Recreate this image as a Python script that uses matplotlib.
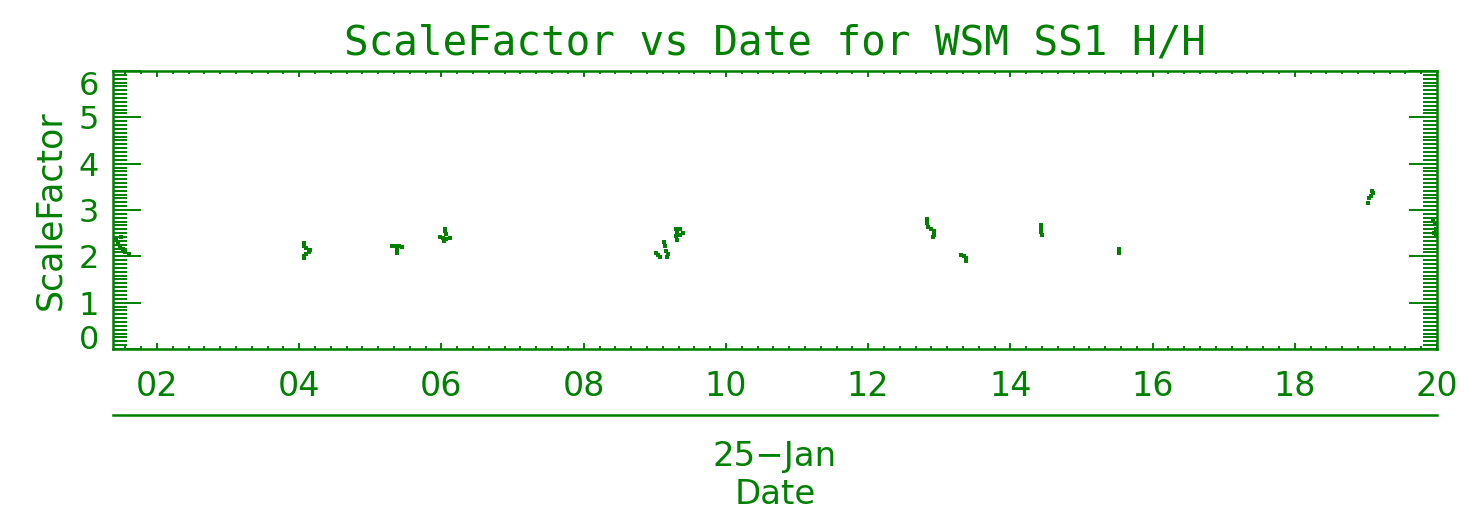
import matplotlib
matplotlib.use("Agg")
import matplotlib.pyplot as plt
from matplotlib.ticker import AutoMinorLocator, FixedLocator, FixedFormatter

# hours of 25-Jan and scale factor readings
hours = [1.42, 1.45, 1.48, 1.52, 1.55, 1.60, 1.50,
         4.06, 4.07, 4.10, 4.15, 4.13, 4.09, 4.07, 4.06,
         5.31, 5.34, 5.37, 5.40, 5.44, 5.38, 5.38, 5.38,
         6.05, 6.05, 6.06, 5.98, 6.02, 6.07, 6.12, 6.04,
         9.02, 9.04, 9.07, 9.13, 9.14, 9.16, 9.18, 9.17,
         9.30, 9.31, 9.30, 9.31, 9.36, 9.39, 9.35,
         12.83, 12.83, 12.84, 12.88, 12.92, 12.92, 12.91,
         13.31, 13.35, 13.38, 13.38,
         14.43, 14.43, 14.43, 14.44,
         15.53, 15.53,
         19.08, 19.10, 19.07, 19.05, 19.03,
         19.95, 19.97, 19.98, 19.96, 19.99]
scale = [2.35, 2.28, 2.22, 2.15, 2.10, 2.05, 2.42,
         2.28, 2.22, 2.17, 2.14, 2.10, 2.06, 2.01, 1.97,
         2.22, 2.23, 2.22, 2.22, 2.21, 2.16, 2.11, 2.07,
         2.60, 2.54, 2.48, 2.42, 2.40, 2.38, 2.40, 2.33,
         2.08, 2.02, 1.99, 2.30, 2.22, 2.12, 2.04, 1.98,
         2.60, 2.52, 2.44, 2.36, 2.58, 2.50, 2.47,
         2.80, 2.72, 2.64, 2.58, 2.54, 2.47, 2.41,
         2.02, 2.01, 1.96, 1.90,
         2.68, 2.60, 2.52, 2.46,
         2.15, 2.08,
         3.42, 3.36, 3.30, 3.25, 3.16,
         2.78, 2.70, 2.60, 2.50, 2.45]

tick_hours = [2, 4, 6, 8, 10, 12, 14, 16, 18, 20]
tick_labels = ["02", "04", "06", "08", "10", "12", "14", "16", "18", "20"]
ytick_vals = [0, 1, 2, 3, 4, 5, 6]

green = "#008000"
plt.rcParams["font.family"] = "DejaVu Sans"

fig = plt.figure(figsize=(14.65, 5.17), dpi=100)
ax = fig.add_axes([0.0771, 0.325, 0.9038, 0.5377])

ax.plot(hours, scale, linestyle="none", marker="s", markersize=3.0,
        color=green, markeredgewidth=0, clip_on=False)

ax.set_xlim(1.38, 20.0)
ax.set_ylim(0, 6)

for s in ax.spines.values():
    s.set_color(green)
    s.set_linewidth(1.8)

ax.xaxis.set_major_locator(FixedLocator(tick_hours))
ax.xaxis.set_major_formatter(FixedFormatter(tick_labels))
ax.xaxis.set_minor_locator(AutoMinorLocator(9))
ax.yaxis.set_major_locator(FixedLocator(ytick_vals))
ax.yaxis.set_minor_locator(AutoMinorLocator(12))

ax.tick_params(axis="x", which="major", direction="in", length=4, width=1.4,
               top=True, bottom=True, color=green, labelcolor=green,
               labelsize=24, pad=15)
ax.tick_params(axis="x", which="minor", direction="in", length=2.3, width=1.4,
               top=True, bottom=True, color=green)
ax.tick_params(axis="y", which="major", direction="in", length=20, width=1.4,
               left=True, right=True, color=green, labelcolor=green,
               labelsize=23, pad=10)
ax.tick_params(axis="y", which="minor", direction="in", length=10, width=1.4,
               left=True, right=True, color=green)

# keep the end labels inside the frame
ylabels = ax.get_yticklabels()
ylabels[0].set_va("baseline")
ylabels[-1].set_va("top")

ax.set_title("ScaleFactor vs Date for WSM SS1 H/H", color=green,
             fontsize=29.5, family="DejaVu Sans Mono", pad=12)
ax.set_ylabel("ScaleFactor", color=green, fontsize=25, labelpad=8)

# second date level below the hour axis
ax.plot([0, 1], [-0.237, -0.237], color=green, linewidth=1.8,
        transform=ax.transAxes, clip_on=False)
ax.text(0.5, -0.385, "25\u2212Jan", color=green, fontsize=24.5,
        ha="center", va="center", transform=ax.transAxes)
ax.text(0.5, -0.525, "Date", color=green, fontsize=24.5,
        ha="center", va="center", transform=ax.transAxes)

fig.savefig("out.png", dpi=100, facecolor="white")
